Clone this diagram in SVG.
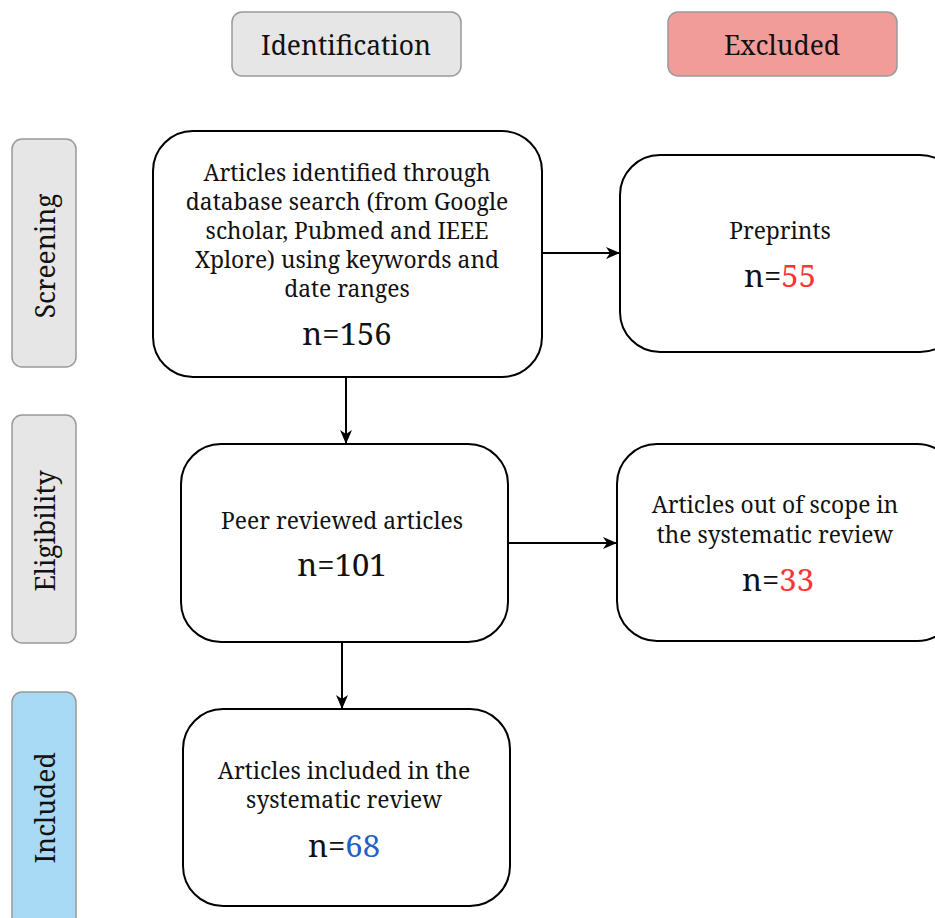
<svg xmlns="http://www.w3.org/2000/svg" width="935" height="918" viewBox="0 0 935 918">
<defs>
<style>
text{font-family:"Noto Serif","DejaVu Serif","Liberation Serif",serif;text-anchor:middle;fill:#111}
.hdr{stroke:#999;stroke-width:1.5}
.g{fill:#e6e6e6}
.node{fill:#fff;stroke:#000;stroke-width:2}
.t{font-size:22.8px}
.h{font-size:26.4px}
.n{font-size:31px}
.conn{stroke:#000;stroke-width:2;fill:none}
.red{fill:#f33}
.blue{fill:#2160c4}
</style>
<marker id="ah" markerWidth="14" markerHeight="14" refX="13" refY="7" orient="auto" markerUnits="userSpaceOnUse">
<path d="M0,1 L14,7 L0,13 L4,7 z" fill="#000"/>
</marker>
</defs>
<rect width="935" height="918" fill="#fff"/>
<g id="identification"><rect class="hdr g" x="232" y="12" width="229" height="64" rx="10"/><text class="h" x="346" y="55">Identification</text></g>
<g id="excluded"><rect class="hdr" fill="#f19c99" x="668" y="12" width="229" height="64" rx="10"/><text class="h" x="782" y="55">Excluded</text></g>
<g id="screening"><rect class="hdr g" x="12" y="139" width="64" height="228" rx="10"/><text class="h" transform="translate(55,256) rotate(-90)">Screening</text></g>
<g id="eligibility"><rect class="hdr g" x="12" y="415" width="64" height="228" rx="10"/><text class="h" transform="translate(55,531) rotate(-90)">Eligibility</text></g>
<g id="included"><rect class="hdr" fill="#a8daf5" x="12" y="692" width="64" height="240" rx="10"/><text class="h" transform="translate(55,808) rotate(-90)">Included</text></g>
<g id="connectors">
<line class="conn" x1="542" y1="253" x2="619" y2="253" marker-end="url(#ah)"/>
<line class="conn" x1="346" y1="377" x2="346" y2="443" marker-end="url(#ah)"/>
<line class="conn" x1="508" y1="543" x2="616" y2="543" marker-end="url(#ah)"/>
<line class="conn" x1="342" y1="642" x2="342" y2="708" marker-end="url(#ah)"/>
</g>
<g id="identified"><rect class="node" x="153" y="131" width="389" height="246" rx="40"/>
<text class="t" x="347" y="181">Articles identified through</text>
<text class="t" x="347" y="210">database search (from Google</text>
<text class="t" x="347" y="239">scholar, Pubmed and IEEE</text>
<text class="t" x="347" y="268">Xplore) using keywords and</text>
<text class="t" x="347" y="297">date ranges</text>
<text class="n" x="347" y="345">n=156</text></g>
<g id="preprints"><rect class="node" x="620" y="155" width="340" height="197" rx="40"/>
<text class="t" x="780" y="239">Preprints</text>
<text class="n" x="780" y="287">n=<tspan class="red">55</tspan></text></g>
<g id="peer"><rect class="node" x="181" y="444" width="327" height="198" rx="40"/>
<text class="t" x="342" y="529">Peer reviewed articles</text>
<text class="n" x="342" y="576">n=101</text></g>
<g id="outofscope"><rect class="node" x="617" y="444" width="340" height="197" rx="40"/>
<text class="t" x="775" y="513">Articles out of scope in</text>
<text class="t" x="775" y="543">the systematic review</text>
<text class="n" x="778" y="591">n=<tspan class="red">33</tspan></text></g>
<g id="includedarticles"><rect class="node" x="183" y="709" width="327" height="197" rx="40"/>
<text class="t" x="344" y="779">Articles included in the</text>
<text class="t" x="344" y="808">systematic review</text>
<text class="n" x="344" y="857">n=<tspan class="blue">68</tspan></text></g>
</svg>
